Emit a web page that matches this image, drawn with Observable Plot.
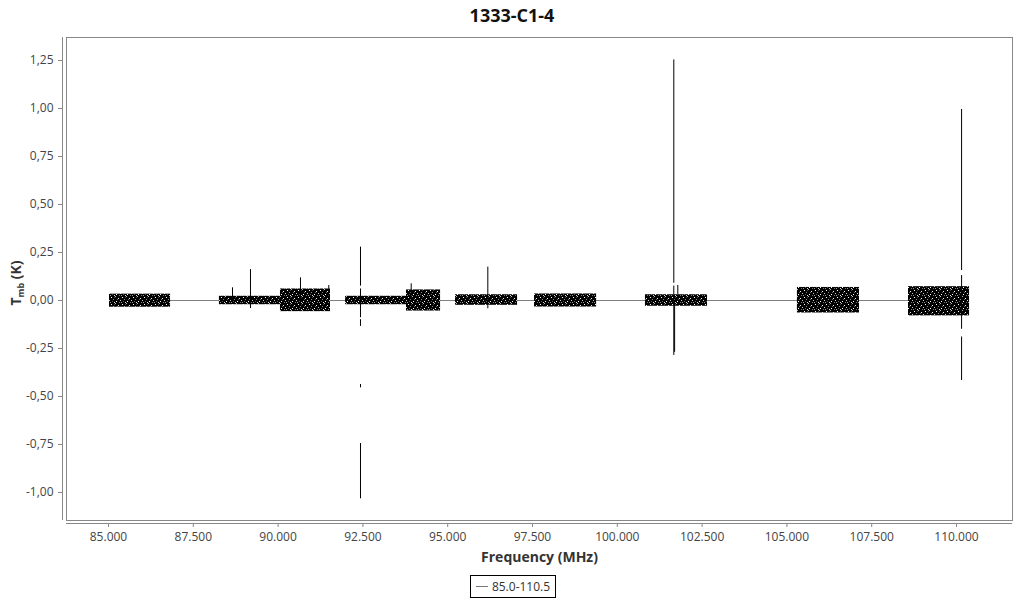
<!DOCTYPE html>
<html>
<head>
<meta charset="utf-8">
<script src="https://cdn.jsdelivr.net/npm/d3@7"></script>
<script src="https://cdn.jsdelivr.net/npm/@observablehq/plot@0.6"></script>
<style>
  html, body { margin: 0; padding: 0; background: #fff; }
  body { width: 1024px; height: 600px; overflow: hidden; font-family: "Open Sans", sans-serif; }
  #title { height: 30px; line-height: 30px; text-align: center; font-weight: bold; font-size: 18px; color: #111; }
  #chart { height: 540px; }
  #legend { display: flex; justify-content: center; margin-top: 5px; padding-left: 2px; }
  #legend .box { border: 1px solid #000; height: 21px; padding: 0 5px; display: flex; align-items: center; font-size: 12px; color: #333; }
  #legend .swatch { width: 12px; height: 0; border-top: 1px solid #777; margin-right: 4px; }
</style>
</head>
<body>
<div id="title">1333-C1-4</div>
<div id="chart"></div>
<div id="legend"><div class="box"><span class="swatch"></span><span>85.0-110.5</span></div></div>
<script>
// ---- data ----
const seriesName = "85.0-110.5";
// noise sub-bands (MHz) and their amplitude envelopes (K)
const bandStart = [85030, 88270, 90070, 91990, 93785, 95230, 97560, 100830, 105310, 108585];
const bandEnd   = [86830, 90070, 91545, 93785, 94790, 97060, 99390, 102660, 107140, 110385];
const bandHigh  = [0.033, 0.022, 0.060, 0.022, 0.055, 0.030, 0.034, 0.030, 0.068, 0.072];
const bandLow   = [-0.035, -0.022, -0.058, -0.022, -0.055, -0.025, -0.034, -0.030, -0.065, -0.080];
// line features (MHz) with their top and bottom (K)
const spikeFreq   = [88656, 89186, 90660, 91494, 92429, 92429, 92429, 92429, 92429, 93924, 96183, 101666, 101666, 101690, 101784, 110150, 110150, 110150];
const spikeTop    = [0.066, 0.161, 0.118, 0.078, 0.278, 0.060, -0.100, -0.4375, -0.745, 0.087, 0.174, 1.253, 0.075, -0.030, 0.078, 0.995, 0.130, -0.190];
const spikeBottom = [0.000, -0.042, 0.000, 0.000, 0.075, -0.090, -0.135, -0.455, -1.033, 0.000, -0.043, 0.090, -0.286, -0.270, 0.000, 0.156, -0.150, -0.417];
// axes
const xTicks = [85000, 87500, 90000, 92500, 95000, 97500, 100000, 102500, 105000, 107500, 110000];
const yTicks = [-1.00, -0.75, -0.50, -0.25, 0.00, 0.25, 0.50, 0.75, 1.00, 1.25];
const xDomain = [83762, 111651];
const yDomain = [-1.146, 1.370];

// ---- build ----
const loc = d3.formatLocale({decimal: ",", thousands: ".", grouping: [3], currency: ["", ""], minus: "-"});
const fx = loc.format(",");
const fy = loc.format(".2f");

const bands = bandStart.map((s, i) => ({x1: s, x2: bandEnd[i], y1: bandLow[i], y2: bandHigh[i]}));
const spikes = spikeFreq.map((f, i) => ({x: f, y1: spikeTop[i], y2: spikeBottom[i]}));
const baseline = [{x1: d3.min(bandStart), x2: d3.max(bandEnd), y: 0}];

const svg = Plot.plot({
  width: 1024,
  height: 540,
  marginTop: 7,
  marginBottom: 50,
  marginLeft: 66,
  marginRight: 12,
  style: {fontFamily: "Open Sans", fontSize: "12px", color: "#444", background: "#fff"},
  x: {domain: xDomain},
  y: {domain: yDomain},
  marks: [
    Plot.frame({stroke: "#888"}),
    Plot.ruleX([xDomain[0]], {dx: -4, stroke: "#888"}),
    Plot.ruleY([yDomain[0]], {dy: 3, stroke: "#888"}),
    Plot.axisY({ticks: yTicks, tickFormat: fy, tickSize: 4, dx: -4, stroke: "#888", label: null}),
    Plot.axisX({ticks: xTicks, tickFormat: fx, tickSize: 4, dy: 3, stroke: "#888",
      label: "Frequency (MHz)", labelAnchor: "center", labelArrow: "none", labelOffset: 41}),
    Plot.ruleY(baseline, {x1: "x1", x2: "x2", y: "y", stroke: "#808080", strokeWidth: 1}),
    Plot.rect(bands, {x1: "x1", x2: "x2", y1: "y1", y2: "y2", fill: "url(#speckle)"}),
    Plot.ruleX(spikes, {x: "x", y1: "y1", y2: "y2", stroke: "#000", strokeWidth: 1})
  ]
});

// speckle texture for the noise bands (pure styling)
const defs = d3.select(svg).insert("defs", ":first-child");
const pat = defs.append("pattern").attr("id", "speckle").attr("patternUnits", "userSpaceOnUse")
  .attr("width", 11).attr("height", 7);
pat.append("rect").attr("width", 11).attr("height", 7).attr("fill", "#000");
[[1,1,"#fff"],[5,0,"#bbb"],[8,2,"#eee"],[3,3,"#888"],[10,4,"#ccc"],[6,5,"#fff"],[0,6,"#999"],
 [2,5,"#555"],[7,3,"#666"],[4,6,"#ddd"],[9,6,"#777"],[4,1,"#444"]].forEach(([x,y,c]) =>
  pat.append("rect").attr("x", x).attr("y", y).attr("width", 1).attr("height", 1).attr("fill", c));

// style the axis label
d3.select(svg).selectAll("text").filter(function() { return this.textContent === "Frequency (MHz)"; })
  .attr("font-weight", "bold").attr("font-size", 14).attr("fill", "#333");

// y label with subscript
const yl = d3.select(svg).append("text")
  .attr("transform", "translate(21,253) rotate(-90)")
  .attr("text-anchor", "middle")
  .attr("font-weight", "bold").attr("font-size", 14).attr("fill", "#333");
yl.append("tspan").text("T");
yl.append("tspan").attr("font-size", 9).attr("dy", 3).text("mb");
yl.append("tspan").attr("dy", -3).text(" (K)");

document.getElementById("chart").appendChild(svg);
</script>
</body>
</html>
